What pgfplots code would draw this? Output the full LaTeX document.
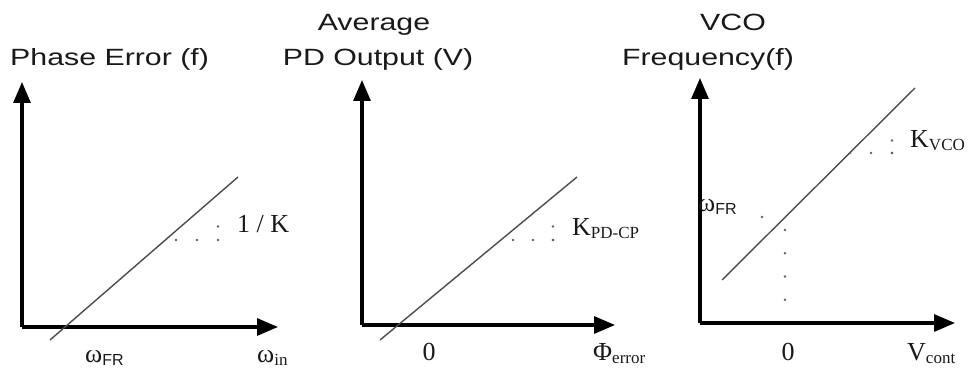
\documentclass[border=0pt]{standalone}
\usepackage{fontspec}
\setmainfont{Liberation Serif}
\newfontfamily\sansfont{Liberation Sans}
\usepackage{graphicx}
\usepackage{pgfplots}
\pgfplotsset{compat=1.18}
\usetikzlibrary{arrows.meta}

% wide sans titles, serif symbols with lowered subscripts
\newcommand\ttl[1]{\scalebox{1.29}[1]{\sansfont\fontsize{23.5}{27}\selectfont #1}}
\newcommand\sym[1]{{\fontsize{26}{30}\selectfont #1}}
\newcommand\sub[1]{\raisebox{-3pt}{\fontsize{17}{20}\selectfont #1}}
\newcommand\subsf[1]{\raisebox{-3pt}{\sansfont\fontsize{16}{20}\selectfont #1}}

\tikzset{lbl/.style={inner sep=0pt, text=black!90}}
\pgfplotsset{
  transfer/.style={
    x=1pt, y=1pt, anchor=south west, enlargelimits=false, clip=false,
    axis lines=left, xtick=\empty, ytick=\empty,
    axis line style={line width=3.1pt, -{Triangle[length=21pt,width=17pt]}},
  },
  slope/.style={no markers, color=black!70, line width=1.4pt},
  guide/.style={no markers, color=black!62, line width=2.7pt, line cap=round},
}

\begin{document}
\begin{tikzpicture}
\path[use as bounding box] (0pt,0pt) rectangle (970pt,370pt);

% Phase error versus input frequency
\begin{axis}[transfer, at={(22pt,43pt)}, xmin=22, xmax=278, ymin=43, ymax=288]
\addplot[slope] coordinates {(50,30) (238,193)};
\addplot[guide, dash pattern=on 0pt off 21pt] coordinates {(176,130) (218,130)};
\addplot[guide, dash pattern=on 0pt off 13.5pt] coordinates {(218,130) (218,157)};
\node[lbl, anchor=base west] at (10,304) {\ttl{Phase Error (f)}};
\node[lbl, anchor=base west] at (237,137) {\sym{1 / K}};
\node[lbl, anchor=base west] at (85,8) {\sym{ω}\subsf{FR}};
\node[lbl, anchor=base west] at (257,8) {\sym{ω}\sub{in}};
\end{axis}

% Average phase-detector output versus phase error
\begin{axis}[transfer, at={(362pt,45pt)}, xmin=362, xmax=615, ymin=45, ymax=290]
\addplot[slope] coordinates {(380,30) (577,193)};
\addplot[guide, dash pattern=on 0pt off 20pt] coordinates {(513,130) (553,130)};
\addplot[guide, dash pattern=on 0pt off 13.5pt] coordinates {(553,130) (553,157)};
\node[lbl, anchor=base] at (374,339) {\ttl{Average}};
\node[lbl, anchor=base] at (378,304) {\ttl{PD Output (V)}};
\node[lbl, anchor=base west] at (572,134) {\sym{K}\sub{PD-CP}};
\node[lbl, anchor=base] at (429,10) {\sym{0}};
\node[lbl, anchor=base west] at (593,10) {\sym{Φ}\sub{error}};
\end{axis}

% VCO frequency versus control voltage
\begin{axis}[transfer, at={(700pt,47pt)}, xmin=700, xmax=955, ymin=47, ymax=292]
\addplot[slope] coordinates {(722,90) (915,282)};
\addplot[guide, dash pattern=on 0pt off 21pt] coordinates {(850,217) (892,217)};
\addplot[guide, dash pattern=on 0pt off 12.5pt] coordinates {(892,217) (892,242)};
\addplot[guide, dash pattern=on 0pt off 23pt] coordinates {(762,153) (785,153)};
\addplot[guide, dash pattern=on 0pt off 23.25pt] coordinates {(785,140) (785,47)};
\node[lbl, anchor=base] at (733,339) {\ttl{VCO}};
\node[lbl, anchor=base] at (708,304) {\ttl{Frequency(f)}};
\node[lbl, anchor=base west] at (910,222) {\sym{K}\sub{VCO}};
\node[lbl, anchor=base west] at (698,158) {\sym{ω}\subsf{FR}};
\node[lbl, anchor=base] at (788,10) {\sym{0}};
\node[lbl, anchor=base west] at (907,10) {\sym{V}\sub{cont}};
\end{axis}
\end{tikzpicture}
\end{document}
